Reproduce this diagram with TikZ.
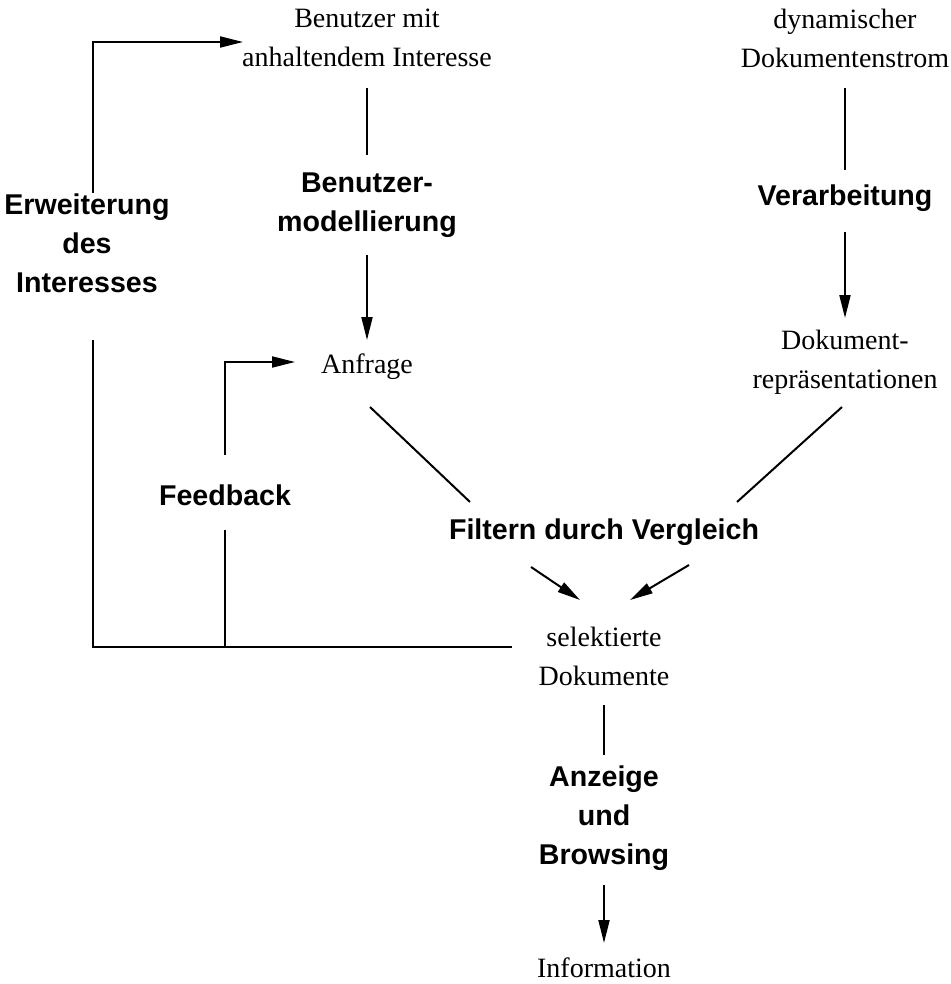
\documentclass[tikz,border=0pt]{standalone}
\usepackage{fontspec}
\setmainfont{Liberation Serif}
\newfontfamily\hvfont{Liberation Sans}
\usetikzlibrary{arrows.meta}
\begin{document}
\begin{tikzpicture}[x=0.5pt,y=-0.5pt,
  conn/.style={line width=1pt},
  arr/.style={conn,-{Triangle[length=11.5pt,width=5.5pt]}},
  plain/.style={align=center,inner sep=0pt,font=\fontsize{14pt}{19.5pt}\selectfont},
  proc/.style={align=center,inner sep=0pt,font=\hvfont\bfseries\fontsize{14.3pt}{19.5pt}\selectfont}]
\useasboundingbox (0,0) rectangle (950,984);

% texts
\node[plain] (usr) at (367,38) {Benutzer mit\\anhaltendem Interesse};
\node[plain] (dyn) at (845,38) {dynamischer\\Dokumentenstrom};
\node[proc]  (bm)  at (367,205) {Benutzer-\\modellierung};
\node[proc]  (ver) at (845,198) {Verarbeitung};
\node[plain] (anf) at (367,367) {Anfrage};
\node[plain] (dok) at (845,362) {Dokument-\\repräsentationen};
\node[proc]  (erw) at (87,243) {Erweiterung\\des\\Interesses};
\node[proc]  (fb)  at (225,495) {Feedback};
\node[proc]  (fil) at (604,532) {Filtern durch Vergleich};
\node[plain] (sel) at (604,656) {selektierte\\Dokumente};
\node[proc]  (anz) at (604,818) {Anzeige\\und\\Browsing};
\node[plain] (inf) at (604,968) {Information};

% connector end points
\coordinate (a1) at (367,88);  \coordinate (a2) at (367,155);
\coordinate (b1) at (367,255); \coordinate (b2) at (367,340);
\coordinate (c1) at (845,88);  \coordinate (c2) at (845,170);
\coordinate (d1) at (845,232); \coordinate (d2) at (845,318);
\coordinate (e1) at (93,193);  \coordinate (e2) at (93,42);   \coordinate (e3) at (243,42);
\coordinate (f1) at (512,647); \coordinate (f2) at (93,647);  \coordinate (f3) at (93,340);
\coordinate (g1) at (225,647); \coordinate (g2) at (225,530);
\coordinate (h1) at (225,455); \coordinate (h2) at (225,362); \coordinate (h3) at (295,362);
\coordinate (i1) at (370,407); \coordinate (i2) at (470,502);
\coordinate (j1) at (531,567); \coordinate (j2) at (580,600);
\coordinate (k1) at (842,407); \coordinate (k2) at (737,502);
\coordinate (l1) at (689,565); \coordinate (l2) at (630,600);
\coordinate (m1) at (604,705); \coordinate (m2) at (604,755);
\coordinate (n1) at (604,885); \coordinate (n2) at (604,943);

% user branch
\draw[conn] (a1) -- (a2);
\draw[arr]  (b1) -- (b2);
% document branch
\draw[conn] (c1) -- (c2);
\draw[arr]  (d1) -- (d2);
% matching
\draw[conn] (i1) -- (i2);
\draw[arr]  (j1) -- (j2);
\draw[conn] (k1) -- (k2);
\draw[arr]  (l1) -- (l2);
% output
\draw[conn] (m1) -- (m2);
\draw[arr]  (n1) -- (n2);
% feedback loops
\draw[arr]  (e1) -- (e2) -- (e3);
\draw[conn] (f1) -- (f2) -- (f3);
\draw[conn] (g1) -- (g2);
\draw[arr]  (h1) -- (h2) -- (h3);
\end{tikzpicture}
\end{document}
